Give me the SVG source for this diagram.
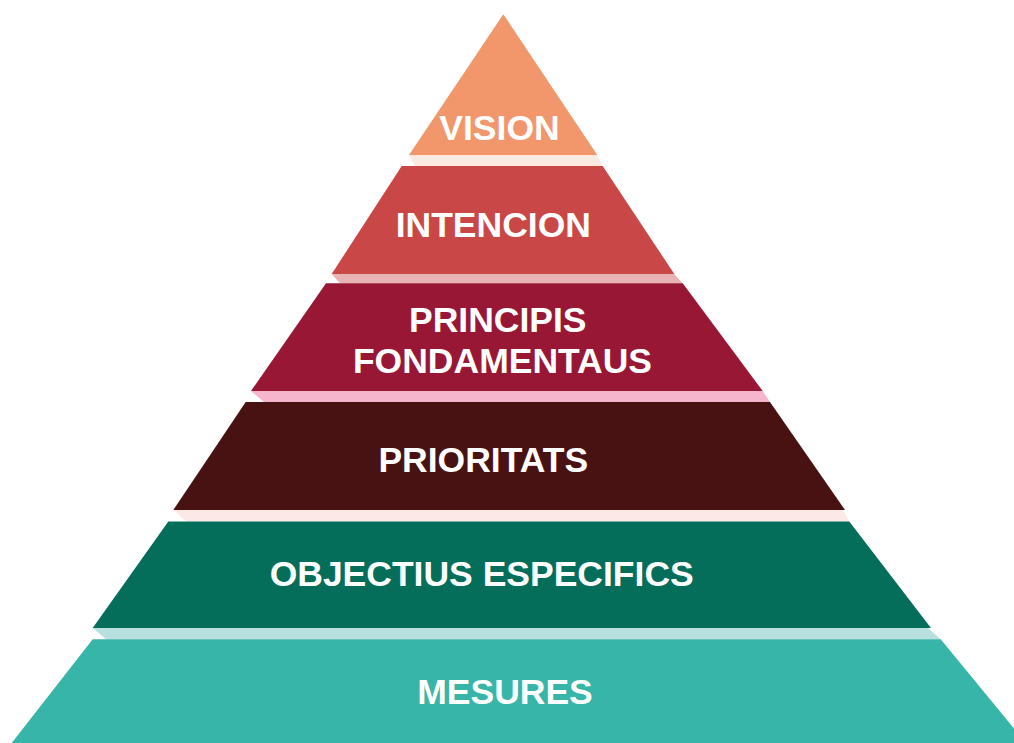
<svg xmlns="http://www.w3.org/2000/svg" width="1014" height="743" viewBox="0 0 1014 743">
<style>
.lbl{font-family:"Liberation Sans",Arial,sans-serif;font-weight:bold;font-size:35.5px;fill:#ffffff;text-anchor:middle}
</style>
<rect x="0" y="0" width="1014" height="743" fill="#ffffff"/>
<g id="connectors">
<polygon points="409,155 597,155 603,166 415,166" fill="#FCE9E0"/>
<polygon points="331.7,274 674.3,274 682.7,283.3 340,283.3" fill="#E8B3B3"/>
<polygon points="251,391 762.7,391 770,402 264,402" fill="#F6B5CC"/>
<polygon points="173.3,510 843,510 849.3,521.5 186.7,521.5" fill="#FDE8E8"/>
<polygon points="92.7,628 928,628 940.7,639.3 106,639.3" fill="#B9E0DF"/>
</g>
<g id="vision">
<polygon points="503.3,14.3 597.3,155 409,155" fill="#F2966B"/>
<text class="lbl" x="499.5" y="140">VISION</text>
</g>
<g id="intencion">
<polygon points="401.7,166 602.7,166 674.3,274 331.7,274" fill="#C94747"/>
<text class="lbl" x="493.3" y="237.3">INTENCION</text>
</g>
<g id="principis">
<polygon points="326,283.3 682.7,283.3 762.7,391 251,391" fill="#981735"/>
<text class="lbl" x="497.8" y="331.7">PRINCIPIS</text>
<text class="lbl" x="502.5" y="373.3">FONDAMENTAUS</text>
</g>
<g id="prioritats">
<polygon points="245.7,402 770,402 845,510 173.3,510" fill="#481213"/>
<text class="lbl" x="483.3" y="472.3">PRIORITATS</text>
</g>
<g id="objectius">
<polygon points="168.3,521.5 849.3,521.5 931,628 92.7,628" fill="#046E5B"/>
<text class="lbl" x="481.7" y="585.7">OBJECTIUS ESPECIFICS</text>
</g>
<g id="mesures">
<polygon points="92.7,639.3 940.7,639.3 1026,743 11.7,743" fill="#36B5A8"/>
<text class="lbl" x="505" y="704">MESURES</text>
</g>
</svg>
